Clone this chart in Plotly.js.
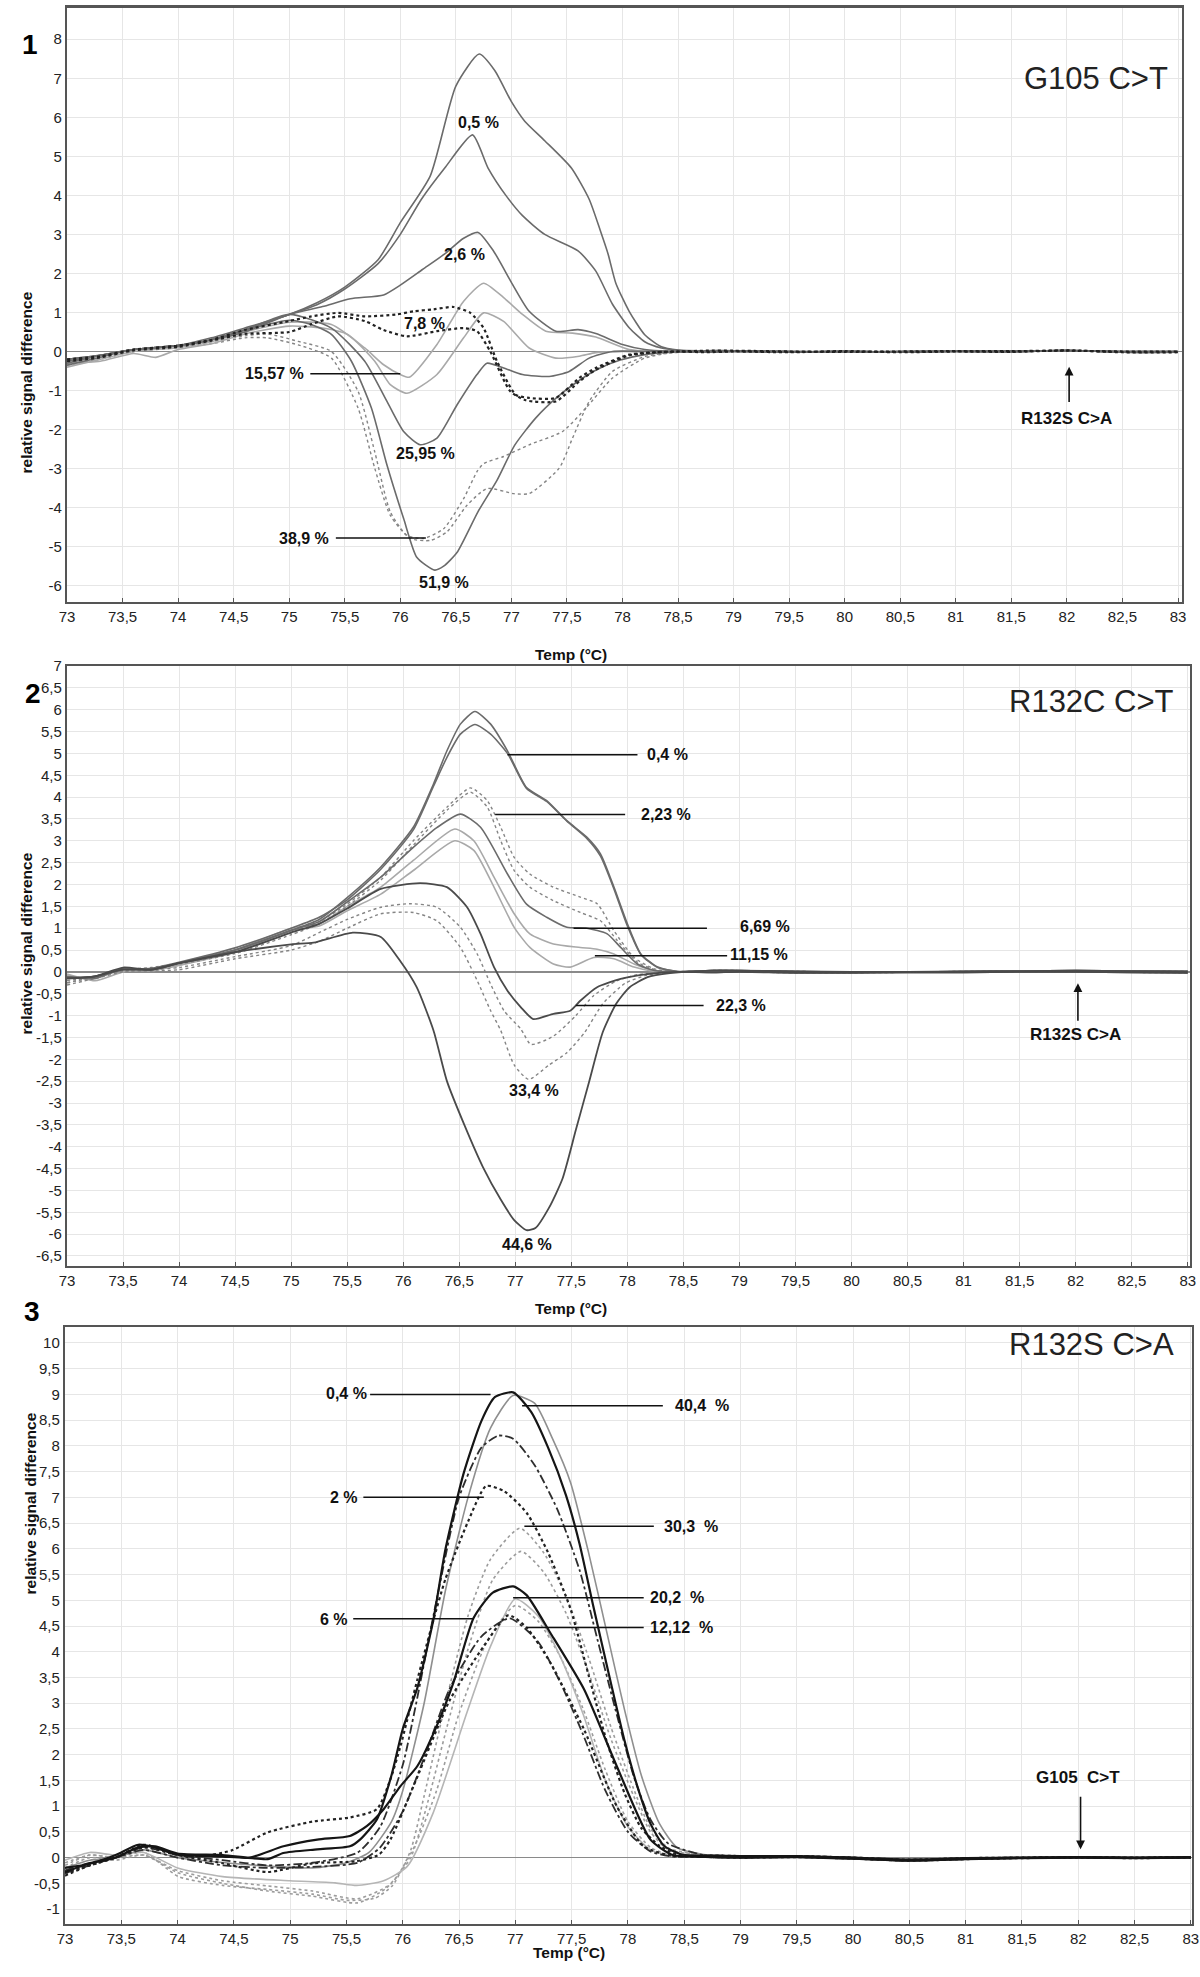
<!DOCTYPE html>
<html>
<head>
<meta charset="utf-8">
<script src="https://cdn.plot.ly/plotly-3.0.1.min.js"></script>
<style>
  html, body { margin: 0; padding: 0; background: #fff; }
  #plot { width: 1200px; height: 1977px; }
</style>
</head>
<body>
<div id="plot"></div>
<script>
// ---------- shared axis ticks ----------
let xTickVals = [73, 73.5, 74, 74.5, 75, 75.5, 76, 76.5, 77, 77.5, 78, 78.5, 79, 79.5, 80, 80.5, 81, 81.5, 82, 82.5, 83];
let xTickText = ["73", "73,5", "74", "74,5", "75", "75,5", "76", "76,5", "77", "77,5", "78", "78,5", "79", "79,5", "80", "80,5", "81", "81,5", "82", "82,5", "83"];

let y1TickVals = [-6, -5, -4, -3, -2, -1, 0, 1, 2, 3, 4, 5, 6, 7, 8];
let y1TickText = ["-6", "-5", "-4", "-3", "-2", "-1", "0", "1", "2", "3", "4", "5", "6", "7", "8"];

let y2TickVals = [-6.5, -6, -5.5, -5, -4.5, -4, -3.5, -3, -2.5, -2, -1.5, -1, -0.5, 0, 0.5, 1, 1.5, 2, 2.5, 3, 3.5, 4, 4.5, 5, 5.5, 6, 6.5, 7];
let y2TickText = ["-6,5", "-6", "-5,5", "-5", "-4,5", "-4", "-3,5", "-3", "-2,5", "-2", "-1,5", "-1", "-0,5", "0", "0,5", "1", "1,5", "2", "2,5", "3", "3,5", "4", "4,5", "5", "5,5", "6", "6,5", "7"];

let y3TickVals = [-1, -0.5, 0, 0.5, 1, 1.5, 2, 2.5, 3, 3.5, 4, 4.5, 5, 5.5, 6, 6.5, 7, 7.5, 8, 8.5, 9, 9.5, 10];
let y3TickText = ["-1", "-0,5", "0", "0,5", "1", "1,5", "2", "2,5", "3", "3,5", "4", "4,5", "5", "5,5", "6", "6,5", "7", "7,5", "8", "8,5", "9", "9,5", "10"];

// flat region after melting (78.75 - 83 °C)
let tailT = [78.75, 79, 79.5, 80, 80.5, 81, 81.5, 82, 82.5, 83];
let tail1Y = [0.02, 0.02, 0.0, -0.01, 0.0, 0.01, 0.01, 0.02, 0.0, 0.0];
let tail1bY = [-0.02, 0.0, -0.02, 0.01, -0.02, 0.0, -0.01, 0.03, -0.02, -0.02];
let tail2Y = [0.03, 0.03, 0.01, 0.0, 0.0, 0.01, 0.02, 0.03, 0.02, 0.01];
let tail2bY = [-0.01, 0.0, -0.02, -0.02, -0.01, -0.01, 0.0, 0.0, -0.01, -0.02];
let tail3Y = [0.04, 0.03, 0.03, 0.0, -0.04, -0.01, 0.0, 0.01, 0.0, 0.01];
let tail3bY = [0.01, 0.0, 0.01, -0.02, -0.06, -0.03, -0.01, 0.0, -0.01, 0.0];

// ---------- panel 1 : G105 C>T ----------
let g105_a_T = [73, 73.3, 73.6, 74, 74.3, 74.6, 75, 75.25, 75.5, 75.8, 76.0, 76.27, 76.5, 76.71, 76.85, 77.0, 77.12, 77.3, 77.54, 77.7, 77.8, 77.87, 77.94, 78.06, 78.2, 78.35, 78.5];
let g105_a_Y = [-0.35, -0.15, 0.05, 0.15, 0.35, 0.6, 0.95, 1.25, 1.65, 2.35, 3.3, 4.5, 6.8, 7.62, 7.2, 6.4, 5.9, 5.4, 4.7, 3.9, 3.1, 2.5, 1.75, 1.03, 0.43, 0.12, 0.04];
let g105_b_T = [73, 73.3, 73.6, 74, 74.3, 74.6, 75, 75.25, 75.5, 75.8, 76.0, 76.19, 76.4, 76.65, 76.79, 76.95, 77.1, 77.3, 77.6, 77.76, 77.91, 78.06, 78.2, 78.35, 78.5];
let g105_b_Y = [-0.3, -0.1, 0.05, 0.15, 0.3, 0.55, 0.95, 1.2, 1.6, 2.25, 3.0, 3.9, 4.7, 5.55, 4.7, 4.0, 3.48, 3.0, 2.58, 2.06, 1.21, 0.61, 0.25, 0.09, 0.03];
let g105_26_T = [73, 73.3, 73.6, 74, 74.3, 74.6, 75, 75.3, 75.55, 75.85, 76.0, 76.2, 76.4, 76.57, 76.7, 76.84, 77.01, 77.16, 77.4, 77.6, 77.76, 78.0, 78.2, 78.4];
let g105_26_Y = [-0.25, -0.1, 0.05, 0.15, 0.3, 0.5, 0.95, 1.15, 1.35, 1.45, 1.7, 2.1, 2.5, 2.9, 3.05, 2.57, 1.72, 1.03, 0.52, 0.56, 0.46, 0.18, 0.05, 0.01];
let g105_78a_T = [73, 73.3, 73.6, 74, 74.3, 74.6, 75.0, 75.2, 75.44, 75.68, 75.97, 76.12, 76.3, 76.48, 76.63, 76.75, 76.87, 77.04, 77.16, 77.4, 77.61, 77.76, 78.06, 78.3, 78.5];
let g105_78a_Y = [-0.2, -0.12, 0.05, 0.15, 0.3, 0.55, 0.78, 0.9, 0.99, 0.9, 0.95, 1.03, 1.08, 1.14, 0.99, 0.6, -0.25, -1.11, -1.19, -1.19, -0.68, -0.42, -0.08, -0.02, 0.0];
let g105_78b_T = [73, 73.3, 73.6, 74, 74.3, 74.6, 75.0, 75.2, 75.44, 75.68, 75.85, 76.06, 76.33, 76.57, 76.69, 76.81, 76.99, 77.13, 77.4, 77.61, 77.76, 78.06, 78.3, 78.5];
let g105_78b_Y = [-0.25, -0.15, 0.03, 0.12, 0.28, 0.45, 0.5, 0.7, 0.9, 0.78, 0.55, 0.39, 0.52, 0.6, 0.52, 0.0, -1.02, -1.25, -1.28, -0.77, -0.47, -0.1, -0.02, 0.0];
let g105_1557a_T = [73, 73.3, 73.6, 74, 74.3, 74.6, 75.0, 75.38, 75.68, 75.85, 76.0, 76.08, 76.33, 76.57, 76.75, 76.93, 77.1, 77.31, 77.55, 77.76, 78.06, 78.3];
let g105_1557a_Y = [-0.4, -0.2, 0.0, 0.1, 0.25, 0.5, 0.75, 0.69, 0.09, -0.34, -0.59, -0.66, 0.18, 1.29, 1.75, 1.38, 0.95, 0.52, 0.47, 0.37, 0.05, 0.0];
let g105_1557b_T = [73, 73.3, 73.6, 73.8, 74, 74.3, 74.6, 75.0, 75.3, 75.53, 75.77, 75.91, 76.06, 76.33, 76.57, 76.75, 76.93, 77.16, 77.4, 77.61, 77.76, 78.0, 78.3];
let g105_1557b_Y = [-0.3, -0.25, -0.05, -0.15, 0.05, 0.2, 0.45, 0.65, 0.6, 0.43, -0.25, -0.85, -1.07, -0.59, 0.35, 0.99, 0.77, 0.09, -0.17, -0.12, -0.03, 0.0, 0.0];
let g105_2595_T = [73, 73.3, 73.6, 74, 74.3, 74.6, 75.0, 75.38, 75.68, 75.88, 76.03, 76.18, 76.33, 76.51, 76.69, 76.78, 76.93, 77.1, 77.34, 77.52, 77.7, 77.91, 78.2];
let g105_2595_Y = [-0.2, -0.1, 0.05, 0.15, 0.3, 0.55, 0.95, 0.6, -0.25, -1.28, -2.05, -2.39, -2.22, -1.37, -0.59, -0.3, -0.42, -0.59, -0.64, -0.51, -0.17, 0.0, 0.0];
let g105_519_T = [73, 73.3, 73.6, 74, 74.3, 74.6, 75.0, 75.19, 75.38, 75.56, 75.74, 75.88, 76.03, 76.15, 76.31, 76.39, 76.51, 76.7, 76.87, 77.03, 77.22, 77.42, 77.58, 77.78, 77.98, 78.2, 78.45];
let g105_519_Y = [-0.2, -0.1, 0.05, 0.15, 0.3, 0.55, 0.8, 0.7, 0.44, -0.25, -1.45, -2.91, -4.28, -5.28, -5.6, -5.5, -5.15, -4.1, -3.3, -2.4, -1.7, -1.15, -0.8, -0.45, -0.22, -0.08, -0.01];
let g105_389a_T = [73, 73.3, 73.6, 74, 74.3, 74.6, 74.8, 75.08, 75.38, 75.62, 75.77, 75.91, 76.06, 76.21, 76.39, 76.57, 76.69, 76.75, 76.93, 77.16, 77.46, 77.67, 77.91, 78.2, 78.45];
let g105_389a_Y = [-0.3, -0.15, 0.0, 0.1, 0.25, 0.4, 0.45, 0.26, 0.0, -1.02, -2.57, -4.11, -4.71, -4.79, -4.54, -3.77, -3.08, -2.87, -2.69, -2.39, -2.05, -1.45, -0.68, -0.17, -0.03];
let g105_389b_T = [73, 73.3, 73.6, 74, 74.3, 74.6, 74.8, 75.08, 75.38, 75.62, 75.77, 75.91, 76.09, 76.27, 76.42, 76.6, 76.78, 77.02, 77.16, 77.43, 77.55, 77.7, 77.91, 78.2, 78.45];
let g105_389b_Y = [-0.35, -0.2, 0.0, 0.1, 0.2, 0.35, 0.35, 0.17, -0.17, -1.45, -2.99, -4.2, -4.79, -4.84, -4.62, -3.94, -3.51, -3.64, -3.64, -2.99, -2.22, -1.28, -0.51, -0.13, -0.03];

// ---------- panel 2 : R132C C>T ----------
let r132c_04a_T = [73, 73.25, 73.5, 73.75, 74, 74.5, 75, 75.25, 75.5, 75.8, 76.09, 76.27, 76.39, 76.51, 76.64, 76.78, 76.93, 77.1, 77.28, 77.46, 77.64, 77.76, 77.88, 78.0, 78.12, 78.27, 78.45];
let r132c_04a_Y = [-0.1, -0.15, 0.08, 0.05, 0.2, 0.5, 0.95, 1.2, 1.7, 2.4, 3.31, 4.3, 5.06, 5.67, 5.96, 5.67, 5.06, 4.22, 3.92, 3.46, 3.08, 2.7, 1.94, 1.1, 0.41, 0.11, 0.01];
let r132c_04b_T = [73, 73.25, 73.5, 73.75, 74, 74.5, 75, 75.25, 75.5, 75.8, 76.09, 76.27, 76.39, 76.51, 76.64, 76.78, 76.93, 77.1, 77.28, 77.46, 77.64, 77.76, 77.88, 78.0, 78.12, 78.27, 78.45];
let r132c_04b_Y = [-0.15, -0.1, 0.05, 0.08, 0.22, 0.55, 1.0, 1.25, 1.65, 2.35, 3.25, 4.25, 4.91, 5.44, 5.66, 5.44, 5.0, 4.2, 3.9, 3.45, 3.05, 2.65, 1.9, 1.05, 0.4, 0.1, 0.01];
let r132c_223a_T = [73, 73.25, 73.5, 73.75, 74, 74.5, 75, 75.25, 75.5, 75.8, 76.09, 76.39, 76.6, 76.75, 76.87, 76.99, 77.13, 77.34, 77.58, 77.73, 77.88, 78.06, 78.24, 78.45];
let r132c_223a_Y = [-0.2, -0.1, 0.05, 0.1, 0.2, 0.45, 0.9, 1.15, 1.55, 2.17, 3.0, 3.77, 4.21, 3.92, 3.31, 2.62, 2.24, 1.94, 1.71, 1.56, 0.94, 0.33, 0.07, 0.0];
let r132c_223b_T = [73, 73.25, 73.5, 73.75, 74, 74.5, 75, 75.25, 75.5, 75.8, 76.09, 76.39, 76.6, 76.75, 76.87, 76.99, 77.13, 77.34, 77.58, 77.76, 77.91, 78.09, 78.27, 78.45];
let r132c_223b_Y = [-0.25, -0.12, 0.03, 0.08, 0.18, 0.42, 0.85, 1.1, 1.5, 2.1, 2.9, 3.7, 4.11, 3.77, 3.0, 2.32, 1.94, 1.63, 1.36, 1.17, 0.72, 0.22, 0.03, 0.0];
let r132c_669_T = [73, 73.25, 73.5, 73.75, 74, 74.5, 75, 75.25, 75.5, 75.8, 76.09, 76.3, 76.51, 76.69, 76.93, 77.1, 77.28, 77.46, 77.64, 77.82, 77.94, 78.09, 78.24, 78.45];
let r132c_669_Y = [-0.12, -0.12, 0.06, 0.06, 0.2, 0.5, 0.95, 1.15, 1.6, 2.17, 2.85, 3.3, 3.61, 3.31, 2.24, 1.55, 1.25, 1.02, 1.0, 0.87, 0.56, 0.18, 0.03, 0.0];
let r132c_1115a_T = [73, 73.25, 73.5, 73.75, 74, 74.5, 75, 75.25, 75.5, 75.8, 76.09, 76.46, 76.63, 76.81, 76.99, 77.13, 77.34, 77.58, 77.73, 77.88, 78.06, 78.24, 78.45];
let r132c_1115a_Y = [-0.05, -0.2, 0.0, 0.05, 0.15, 0.5, 1.0, 1.1, 1.5, 1.94, 2.55, 3.27, 3.0, 2.17, 1.33, 0.87, 0.64, 0.56, 0.52, 0.41, 0.18, 0.03, 0.0];
let r132c_1115b_T = [73, 73.25, 73.5, 73.75, 74, 74.5, 75, 75.25, 75.5, 75.8, 76.09, 76.46, 76.63, 76.81, 76.99, 77.13, 77.34, 77.49, 77.7, 77.88, 78.06, 78.24, 78.45];
let r132c_1115b_Y = [-0.1, -0.15, 0.05, 0.02, 0.15, 0.45, 0.95, 1.05, 1.4, 1.78, 2.32, 3.0, 2.78, 1.94, 1.02, 0.56, 0.18, 0.11, 0.33, 0.3, 0.11, 0.01, 0.0];
let r132c_223_T = [73, 73.25, 73.5, 73.75, 74, 74.5, 75, 75.25, 75.5, 75.8, 76.15, 76.39, 76.57, 76.69, 76.81, 76.93, 77.05, 77.16, 77.34, 77.49, 77.58, 77.73, 77.94, 78.18, 78.45];
let r132c_223_Y = [-0.15, -0.1, 0.05, 0.05, 0.2, 0.45, 0.9, 1.1, 1.45, 1.9, 2.03, 1.94, 1.48, 0.87, 0.11, -0.43, -0.81, -1.08, -0.96, -0.89, -0.66, -0.35, -0.16, -0.05, 0.0];
let r132c_334a_T = [73, 73.25, 73.5, 73.75, 74, 74.5, 75, 75.25, 75.5, 75.8, 76.06, 76.3, 76.51, 76.66, 76.78, 76.9, 77.05, 77.14, 77.34, 77.54, 77.7, 77.9, 78.1, 78.4];
let r132c_334a_Y = [-0.3, -0.15, 0.0, 0.05, 0.1, 0.35, 0.6, 0.9, 1.2, 1.48, 1.56, 1.48, 1.02, 0.41, -0.28, -0.89, -1.31, -1.66, -1.47, -1.0, -0.54, -0.21, -0.06, 0.0];
let r132c_334b_T = [73, 73.25, 73.5, 73.75, 74, 74.5, 75, 75.25, 75.5, 75.8, 76.09, 76.3, 76.51, 76.66, 76.78, 76.87, 76.99, 77.12, 77.3, 77.46, 77.62, 77.78, 77.98, 78.18, 78.4];
let r132c_334b_Y = [-0.25, -0.1, 0.02, 0.02, 0.05, 0.3, 0.5, 0.7, 1.0, 1.33, 1.36, 1.17, 0.56, -0.2, -0.89, -1.34, -2.13, -2.46, -2.13, -1.85, -1.38, -0.73, -0.26, -0.07, 0.0];
let r132c_446_T = [73, 73.25, 73.5, 73.75, 74, 74.5, 75, 75.2, 75.55, 75.8, 75.97, 76.12, 76.27, 76.39, 76.55, 76.71, 76.87, 76.99, 77.1, 77.18, 77.3, 77.42, 77.54, 77.66, 77.78, 77.9, 78.02, 78.18, 78.38];
let r132c_446_Y = [-0.15, -0.1, 0.1, 0.05, 0.2, 0.45, 0.63, 0.67, 0.9, 0.8, 0.26, -0.35, -1.34, -2.5, -3.53, -4.46, -5.21, -5.68, -5.91, -5.86, -5.4, -4.74, -3.62, -2.5, -1.38, -0.73, -0.35, -0.12, -0.03];

// ---------- panel 3 : R132S C>A ----------
let r132s_04_T = [73, 73.22, 73.45, 73.65, 73.8, 74.0, 74.4, 74.8, 74.94, 75.24, 75.53, 75.62, 75.77, 75.9, 76.0, 76.13, 76.27, 76.38, 76.54, 76.7, 76.82, 76.98, 77.14, 77.29, 77.45, 77.57, 77.69, 77.85, 77.97, 78.09, 78.2, 78.32, 78.48];
let r132s_04_Y = [-0.28, -0.11, 0.0, 0.2, 0.22, 0.08, 0.05, -0.03, 0.09, 0.16, 0.22, 0.35, 0.74, 1.6, 2.5, 3.3, 4.6, 6.0, 7.46, 8.49, 8.95, 9.04, 8.66, 7.97, 7.04, 6.1, 4.91, 3.38, 2.27, 1.34, 0.66, 0.23, 0.06];
let r132s_404_T = [73, 73.22, 73.45, 73.7, 74.0, 74.2, 74.7, 75.2, 75.5, 75.7, 75.9, 76.0, 76.19, 76.38, 76.58, 76.78, 76.98, 77.17, 77.33, 77.49, 77.65, 77.81, 77.97, 78.12, 78.28, 78.44];
let r132s_404_Y = [-0.2, -0.05, 0.0, 0.15, 0.0, -0.05, -0.15, -0.2, -0.1, 0.1, 0.7, 1.3, 3.0, 5.2, 7.0, 8.35, 8.98, 8.83, 8.14, 7.29, 5.93, 4.4, 2.87, 1.59, 0.66, 0.19];
let r132s_dd_T = [73, 73.22, 73.45, 73.7, 74.0, 74.4, 74.8, 75.2, 75.6, 75.8, 76.0, 76.11, 76.3, 76.5, 76.7, 76.85, 76.98, 77.17, 77.37, 77.57, 77.73, 77.89, 78.05, 78.2, 78.36];
let r132s_dd_Y = [-0.3, -0.15, 0.0, 0.2, 0.05, -0.05, -0.15, -0.1, 0.1, 0.6, 1.8, 2.9, 5.0, 7.0, 7.97, 8.2, 8.14, 7.63, 6.78, 5.59, 4.23, 2.87, 1.59, 0.74, 0.27];
let r132s_2_T = [73, 73.22, 73.45, 73.7, 74.0, 74.2, 74.48, 74.8, 75.2, 75.53, 75.77, 75.89, 75.98, 76.13, 76.27, 76.38, 76.58, 76.74, 76.9, 77.1, 77.29, 77.49, 77.65, 77.81, 77.97, 78.12, 78.28, 78.45];
let r132s_2_Y = [-0.35, -0.15, 0.0, 0.25, 0.05, 0.02, 0.14, 0.49, 0.7, 0.78, 0.94, 1.52, 2.17, 3.46, 4.6, 5.42, 6.53, 7.22, 7.12, 6.7, 5.93, 4.83, 3.55, 2.27, 1.25, 0.57, 0.23, 0.05];
let r132s_303a_T = [73, 73.22, 73.45, 73.7, 74.01, 74.4, 74.8, 75.2, 75.51, 75.75, 75.91, 76.07, 76.19, 76.38, 76.58, 76.78, 77.04, 77.25, 77.45, 77.65, 77.85, 78.05, 78.2, 78.36];
let r132s_303a_Y = [-0.15, 0.05, 0.0, 0.1, -0.37, -0.54, -0.62, -0.71, -0.83, -0.79, -0.54, 0.14, 1.2, 3.0, 4.7, 5.8, 6.4, 5.93, 5.08, 3.89, 2.53, 1.34, 0.57, 0.19];
let r132s_303b_T = [73, 73.22, 73.45, 73.7, 74.01, 74.4, 74.8, 75.2, 75.6, 75.85, 76.07, 76.2, 76.4, 76.6, 76.8, 77.05, 77.25, 77.45, 77.65, 77.85, 78.05, 78.2, 78.36];
let r132s_303b_Y = [-0.2, 0.0, -0.05, 0.05, -0.3, -0.5, -0.65, -0.75, -0.88, -0.6, 0.0, 0.9, 2.6, 4.2, 5.4, 5.95, 5.55, 4.75, 3.6, 2.3, 1.2, 0.5, 0.15];
let r132s_6_T = [73, 73.22, 73.45, 73.65, 73.8, 74.0, 74.4, 74.64, 74.94, 75.24, 75.53, 75.68, 75.83, 75.98, 76.13, 76.3, 76.45, 76.63, 76.8, 76.98, 77.1, 77.31, 77.61, 77.9, 78.2, 78.4];
let r132s_6_Y = [-0.2, -0.12, 0.05, 0.25, 0.2, 0.06, 0.02, 0.0, 0.22, 0.35, 0.42, 0.61, 0.94, 1.39, 1.78, 2.55, 3.4, 4.66, 5.15, 5.27, 5.1, 4.37, 3.27, 1.78, 0.35, 0.05];
let r132s_202_T = [73, 73.22, 73.45, 73.7, 74.0, 74.4, 75.0, 75.4, 75.59, 75.83, 76.04, 76.27, 76.57, 76.78, 77.0, 77.2, 77.4, 77.6, 77.8, 78.0, 78.2, 78.4];
let r132s_202_Y = [-0.05, 0.1, 0.05, 0.1, -0.2, -0.37, -0.45, -0.49, -0.54, -0.45, -0.17, 0.87, 2.82, 4.11, 5.03, 4.7, 3.9, 2.8, 1.5, 0.6, 0.15, 0.03];
let r132s_1212a_T = [73, 73.22, 73.45, 73.7, 74.0, 74.4, 74.8, 75.2, 75.59, 75.79, 75.89, 76.12, 76.42, 76.72, 76.94, 77.1, 77.31, 77.61, 77.9, 78.14, 78.4];
let r132s_1212a_Y = [-0.3, -0.15, 0.0, 0.2, 0.05, -0.11, -0.28, -0.11, -0.07, 0.06, 0.35, 1.52, 3.07, 4.11, 4.71, 4.47, 3.79, 2.49, 1.0, 0.22, 0.03];
let r132s_1212b_T = [73, 73.22, 73.45, 73.7, 74.0, 74.4, 74.8, 75.2, 75.6, 75.8, 76.0, 76.2, 76.42, 76.7, 76.95, 77.2, 77.4, 77.6, 77.8, 78.0, 78.2, 78.4];
let r132s_1212b_Y = [-0.25, -0.1, 0.0, 0.15, 0.0, -0.15, -0.2, -0.18, -0.1, 0.2, 0.9, 2.0, 3.3, 4.3, 4.65, 4.2, 3.4, 2.4, 1.3, 0.5, 0.12, 0.02];
let r132s_dot_T = [73, 73.22, 73.45, 73.7, 74.0, 74.4, 74.8, 75.2, 75.6, 75.9, 76.1, 76.3, 76.5, 76.75, 77.0, 77.2, 77.4, 77.6, 77.8, 78.0, 78.2, 78.4];
let r132s_dot_Y = [-0.1, 0.05, 0.0, 0.05, -0.25, -0.45, -0.55, -0.65, -0.8, -0.5, 0.2, 1.3, 2.8, 4.2, 4.9, 4.6, 3.9, 2.9, 1.7, 0.7, 0.2, 0.03];

// ---------- line styles ----------
let solidGray = {color: "#6b6b6b", width: 1.6, shape: "spline", smoothing: 0.6};
let lightGray = {color: "#a9a9a9", width: 1.6, shape: "spline", smoothing: 0.6};
let darkDot = {color: "#222", width: 2.2, dash: "dot", shape: "spline", smoothing: 0.6};
let greyDot = {color: "#858585", width: 1.4, dash: "dot", shape: "spline", smoothing: 0.6};
let black = {color: "#151515", width: 2.2, shape: "spline", smoothing: 0.6};
let dashDot = {color: "#2e2e2e", width: 1.8, dash: "dashdot", shape: "spline", smoothing: 0.6};
let lightDot = {color: "#9c9c9c", width: 1.6, dash: "dot", shape: "spline", smoothing: 0.6};
let midGray = {color: "#8f8f8f", width: 1.6, shape: "spline", smoothing: 0.6};
let paleGray = {color: "#b5b5b5", width: 1.6, shape: "spline", smoothing: 0.6};
let darkGray = {color: "#4a4a4a", width: 1.8, shape: "spline", smoothing: 0.6};

function curve(T, Y, tail, style, xa, ya) {
  return {
    x: T.concat(tailT), y: Y.concat(tail),
    type: "scatter", mode: "lines", line: style,
    xaxis: xa, yaxis: ya, hoverinfo: "skip", showlegend: false
  };
}

let data = [
  // panel 1
  curve(g105_389a_T, g105_389a_Y, tail1Y, greyDot, "x", "y"),
  curve(g105_389b_T, g105_389b_Y, tail1bY, greyDot, "x", "y"),
  curve(g105_1557a_T, g105_1557a_Y, tail1Y, lightGray, "x", "y"),
  curve(g105_1557b_T, g105_1557b_Y, tail1bY, lightGray, "x", "y"),
  curve(g105_a_T, g105_a_Y, tail1Y, solidGray, "x", "y"),
  curve(g105_b_T, g105_b_Y, tail1bY, solidGray, "x", "y"),
  curve(g105_26_T, g105_26_Y, tail1Y, solidGray, "x", "y"),
  curve(g105_2595_T, g105_2595_Y, tail1bY, solidGray, "x", "y"),
  curve(g105_519_T, g105_519_Y, tail1Y, solidGray, "x", "y"),
  curve(g105_78a_T, g105_78a_Y, tail1Y, darkDot, "x", "y"),
  curve(g105_78b_T, g105_78b_Y, tail1bY, darkDot, "x", "y"),
  // panel 2
  curve(r132c_1115a_T, r132c_1115a_Y, tail2Y, lightGray, "x2", "y2"),
  curve(r132c_1115b_T, r132c_1115b_Y, tail2bY, lightGray, "x2", "y2"),
  curve(r132c_223a_T, r132c_223a_Y, tail2Y, greyDot, "x2", "y2"),
  curve(r132c_223b_T, r132c_223b_Y, tail2bY, greyDot, "x2", "y2"),
  curve(r132c_334a_T, r132c_334a_Y, tail2Y, greyDot, "x2", "y2"),
  curve(r132c_334b_T, r132c_334b_Y, tail2bY, greyDot, "x2", "y2"),
  curve(r132c_04a_T, r132c_04a_Y, tail2Y, solidGray, "x2", "y2"),
  curve(r132c_04b_T, r132c_04b_Y, tail2bY, solidGray, "x2", "y2"),
  curve(r132c_669_T, r132c_669_Y, tail2Y, solidGray, "x2", "y2"),
  curve(r132c_223_T, r132c_223_Y, tail2bY, darkGray, "x2", "y2"),
  curve(r132c_446_T, r132c_446_Y, tail2Y, darkGray, "x2", "y2"),
  // panel 3
  curve(r132s_dot_T, r132s_dot_Y, tail3Y, lightDot, "x3", "y3"),
  curve(r132s_303a_T, r132s_303a_Y, tail3bY, lightDot, "x3", "y3"),
  curve(r132s_303b_T, r132s_303b_Y, tail3Y, lightDot, "x3", "y3"),
  curve(r132s_202_T, r132s_202_Y, tail3bY, paleGray, "x3", "y3"),
  curve(r132s_404_T, r132s_404_Y, tail3Y, midGray, "x3", "y3"),
  curve(r132s_dd_T, r132s_dd_Y, tail3bY, dashDot, "x3", "y3"),
  curve(r132s_1212b_T, r132s_1212b_Y, tail3Y, dashDot, "x3", "y3"),
  curve(r132s_2_T, r132s_2_Y, tail3bY, darkDot, "x3", "y3"),
  curve(r132s_1212a_T, r132s_1212a_Y, tail3Y, darkDot, "x3", "y3"),
  curve(r132s_6_T, r132s_6_Y, tail3bY, black, "x3", "y3"),
  curve(r132s_04_T, r132s_04_Y, tail3Y, black, "x3", "y3")
];

// ---------- layout ----------
const W = 1200, H = 1977;
function dom(a, b) { return [a / W, b / W]; }
function vdom(top, bottom) { return [1 - bottom / H, 1 - top / H]; }
function px(v) { return v / W; }
function py(v) { return 1 - v / H; }

let tickFont = {family: "Liberation Sans, Arial, sans-serif", size: 15, color: "#222"};
function xAxis(domain, right, anchor) {
  return {
    domain: domain, range: [73, right], anchor: anchor,
    tickvals: xTickVals, ticktext: xTickText, tickfont: tickFont,
    ticks: "inside", ticklen: 4, tickcolor: "#555",
    showgrid: true, gridcolor: "#e6e6e6", gridwidth: 1,
    showline: true, linecolor: "#555", linewidth: 2.2, mirror: true,
    zeroline: false, fixedrange: true
  };
}
function yAxis(domain, range, vals, text, anchor) {
  return {
    domain: domain, range: range, anchor: anchor,
    tickvals: vals, ticktext: text, tickfont: tickFont, ticks: "",
    showgrid: true, gridcolor: "#e6e6e6", gridwidth: 1,
    showline: true, linecolor: "#555", linewidth: 2.2, mirror: true,
    zeroline: true, zerolinecolor: "#8a8a8a", zerolinewidth: 1.5, fixedrange: true
  };
}

let labelFont = {family: "Liberation Sans, Arial, sans-serif", size: 16, color: "#111", weight: "bold"};
let arrowFont = {family: "Liberation Sans, Arial, sans-serif", size: 17, color: "#111", weight: "bold"};
let bigFont = {family: "Liberation Sans, Arial, sans-serif", size: 31, color: "#222"};
let titleFont = {family: "Liberation Sans, Arial, sans-serif", size: 15.5, color: "#111", weight: "bold"};
let yTitleFont = {family: "Liberation Sans, Arial, sans-serif", size: 15.5, color: "#111", weight: "bold"};
let numFont = {family: "Liberation Sans, Arial, sans-serif", size: 28, color: "#000", weight: "bold"};

function lbl(text, x, y, xr, yr, anchor) {
  return {text: text, x: x, y: y, xref: xr, yref: yr, showarrow: false,
          xanchor: anchor || "center", yanchor: "middle", font: labelFont};
}
function lead(x0, x1, y, xr, yr) {
  return {type: "line", xref: xr, yref: yr, x0: x0, x1: x1, y0: y, y1: y,
          line: {color: "#111", width: 1.5}};
}
function arrow(x, yHead, yTail, xr, yr) {
  return {text: "", x: x, y: yHead, ax: x, ay: yTail, xref: xr, yref: yr, axref: xr, ayref: yr,
          showarrow: true, arrowhead: 2, arrowsize: 1.1, arrowwidth: 1.6, arrowcolor: "#111", standoff: 0};
}

let annotations = [
  // panel numbers
  {text: "1", x: px(20), y: py(27), xref: "paper", yref: "paper", showarrow: false, font: numFont},
  {text: "2", x: px(23), y: py(693), xref: "paper", yref: "paper", showarrow: false, font: numFont},
  {text: "3", x: px(22), y: py(1329), xref: "paper", yref: "paper", showarrow: false, font: numFont},
  // axis titles
  {text: "Temp (°C)", x: px(571), y: py(644), xref: "paper", yref: "paper", showarrow: false, font: titleFont},
  {text: "Temp (°C)", x: px(571), y: py(1308), xref: "paper", yref: "paper", showarrow: false, font: titleFont},
  {text: "Temp (°C)", x: px(569), y: py(1963), xref: "paper", yref: "paper", showarrow: false, font: titleFont},
  {text: "relative signal difference", x: px(15), y: py(290), xref: "paper", yref: "paper", showarrow: false, textangle: -90, font: yTitleFont},
  {text: "relative signal difference", x: px(15), y: py(944), xref: "paper", yref: "paper", showarrow: false, textangle: -90, font: yTitleFont},
  {text: "relative signal difference", x: px(19), y: py(1597), xref: "paper", yref: "paper", showarrow: false, textangle: -90, font: yTitleFont},
  // panel titles
  {text: "G105 C>T", x: px(1170), y: py(59), xref: "paper", yref: "paper", xanchor: "right", showarrow: false, font: bigFont},
  {text: "R132C C>T", x: px(1176), y: py(701), xref: "paper", yref: "paper", xanchor: "right", showarrow: false, font: bigFont},
  {text: "R132S C>A", x: px(1176), y: py(1364), xref: "paper", yref: "paper", xanchor: "right", showarrow: false, font: bigFont},

  // panel 1 labels
  lbl("0,5 %", 76.70, 5.87, "x", "y"),
  lbl("2,6 %", 76.58, 2.48, "x", "y"),
  lbl("7,8 %", 76.22, 0.72, "x", "y"),
  lbl("15,57 %", 75.15, -0.56, "x", "y", "right"),
  lbl("25,95 %", 76.23, -2.62, "x", "y"),
  lbl("38,9 %", 75.38, -4.79, "x", "y", "right"),
  lbl("51,9 %", 76.39, -5.91, "x", "y"),
  {text: "R132S C>A", x: 82.0, y: -1.71, xref: "x", yref: "y", showarrow: false, font: arrowFont},
  arrow(82.02, -0.39, -1.33, "x", "y"),

  // panel 2 labels
  lbl("0,4 %", 78.16, 4.97, "x2", "y2", "left"),
  lbl("2,23 %", 78.10, 3.6, "x2", "y2", "left"),
  lbl("6,69 %", 78.99, 1.05, "x2", "y2", "left"),
  lbl("11,15 %", 78.90, 0.39, "x2", "y2", "left"),
  lbl("22,3 %", 78.77, -0.76, "x2", "y2", "left"),
  lbl("33,4 %", 77.17, -2.72, "x2", "y2"),
  lbl("44,6 %", 77.10, -6.24, "x2", "y2"),
  {text: "R132S C>A", x: 82.0, y: -1.43, xref: "x2", yref: "y2", showarrow: false, font: arrowFont},
  arrow(82.02, -0.26, -1.15, "x2", "y2"),

  // panel 3 labels
  lbl("0,4 %", 75.70, 9.02, "x3", "y3", "right"),
  lbl("2 %", 75.62, 7.0, "x3", "y3", "right"),
  lbl("6 %", 75.53, 4.63, "x3", "y3", "right"),
  lbl("40,4  %", 78.40, 8.79, "x3", "y3", "left"),
  lbl("30,3  %", 78.30, 6.44, "x3", "y3", "left"),
  lbl("20,2  %", 78.18, 5.05, "x3", "y3", "left"),
  lbl("12,12  %", 78.18, 4.47, "x3", "y3", "left"),
  {text: "G105  C>T", x: 82.0, y: 1.55, xref: "x3", yref: "y3", showarrow: false, font: arrowFont},
  arrow(82.02, 0.16, 1.21, "x3", "y3")
];

let shapes = [
  lead(75.19, 76.0, -0.57, "x", "y"),
  lead(75.42, 76.23, -4.78, "x", "y"),
  lead(76.93, 78.09, 4.97, "x2", "y2"),
  lead(76.82, 77.98, 3.6, "x2", "y2"),
  lead(77.52, 78.71, 1.0, "x2", "y2"),
  lead(77.71, 78.89, 0.37, "x2", "y2"),
  lead(77.54, 78.68, -0.77, "x2", "y2"),
  lead(75.71, 76.78, 9.0, "x3", "y3"),
  lead(75.65, 76.72, 7.0, "x3", "y3"),
  lead(75.56, 76.63, 4.64, "x3", "y3"),
  lead(77.06, 78.31, 8.78, "x3", "y3"),
  lead(77.08, 78.23, 6.44, "x3", "y3"),
  lead(76.98, 78.14, 5.05, "x3", "y3"),
  lead(77.1, 78.14, 4.47, "x3", "y3")
];

let layout = {
  width: W, height: H,
  margin: {l: 0, r: 0, t: 0, b: 0, autoexpand: false},
  paper_bgcolor: "#fff", plot_bgcolor: "#fff",
  showlegend: false, hovermode: false,
  xaxis: xAxis(dom(67, 1182), 83.036, "y"),
  yaxis: yAxis(vdom(7.6, 601.7), [-6.41, 8.81], y1TickVals, y1TickText, "x"),
  xaxis2: xAxis(dom(67, 1190), 83.02, "y2"),
  yaxis2: yAxis(vdom(666, 1266), [-6.73, 7.0], y2TickVals, y2TickText, "x2"),
  xaxis3: xAxis(dom(65, 1192), 83.01, "y3"),
  yaxis3: yAxis(vdom(1327, 1924), [-1.29, 10.31], y3TickVals, y3TickText, "x3"),
  annotations: annotations,
  shapes: shapes
};

Plotly.newPlot("plot", data, layout, {staticPlot: true, displayModeBar: false});
</script>
</body>
</html>
